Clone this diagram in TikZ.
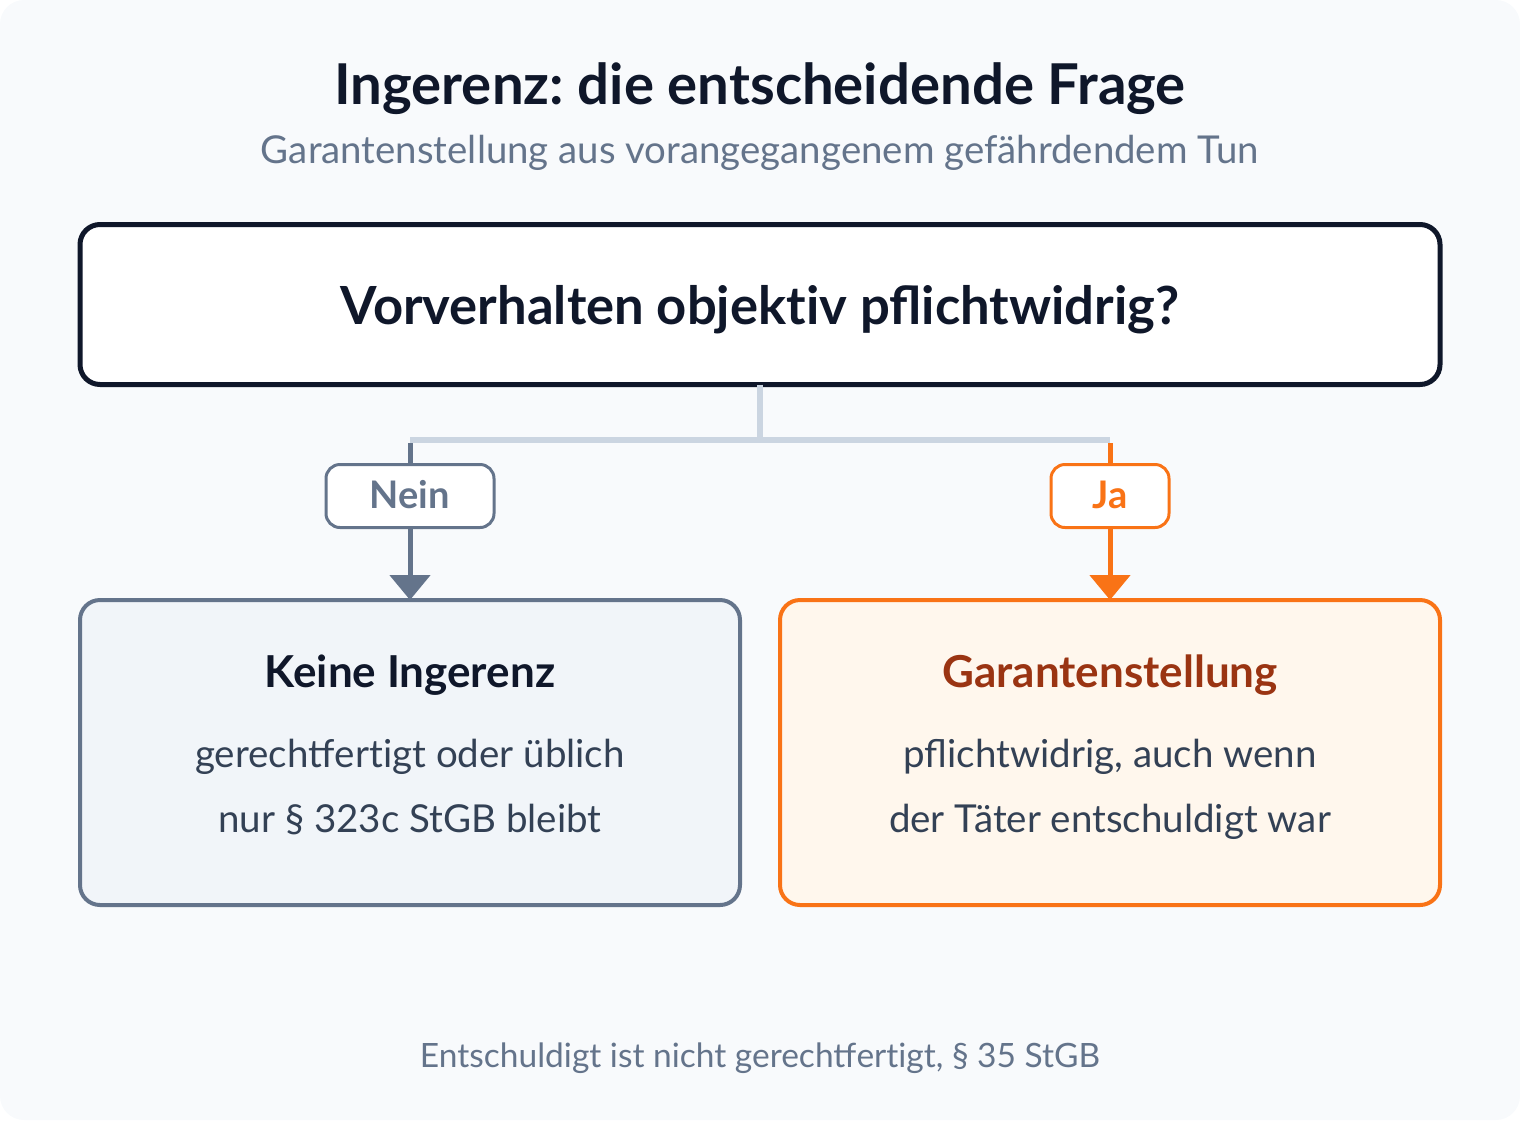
\documentclass[tikz,border=0pt]{standalone}
\usepackage{fontspec}
\setmainfont{Lato}
\usetikzlibrary{arrows.meta}
\frenchspacing
\newcommand\nolig{\kern0pt\relax}
\definecolor{bgc}{HTML}{F8FAFC}
\definecolor{ink}{HTML}{0F172A}
\definecolor{slatem}{HTML}{64748B}
\definecolor{slated}{HTML}{334155}
\definecolor{linec}{HTML}{CBD5E1}
\definecolor{orng}{HTML}{F97316}
\definecolor{orngd}{HTML}{9A3412}
\definecolor{lfill}{HTML}{F1F5F9}
\definecolor{rfill}{HTML}{FFF7ED}
\tikzset{
  txt/.style={anchor=base, inner sep=0pt, outer sep=0pt},
  boxbase/.style={rectangle, anchor=north west, inner sep=0pt, outer sep=0pt},
  qbox/.style={boxbase, draw=ink, fill=white, line width=5pt, rounded corners=20pt, minimum width=1360pt, minimum height=160pt},
  lbox/.style={boxbase, draw=slatem, fill=lfill, line width=4pt, rounded corners=20pt, minimum width=660pt, minimum height=305pt},
  rbox/.style={boxbase, draw=orng, fill=rfill, line width=4pt, rounded corners=20pt, minimum width=660pt, minimum height=305pt},
  tag/.style={rectangle, fill=white, line width=3pt, rounded corners=14pt, inner sep=0pt, minimum height=63pt},
  graylink/.style={draw=linec, line width=6pt},
  nolink/.style={draw=slatem, line width=5pt},
  yeslink/.style={draw=orng, line width=5pt},
  tip/.style={-{Triangle[width=40pt,length=25pt]}}
}
\begin{document}
\begin{tikzpicture}[x=1pt,y=-1pt]
\useasboundingbox (0,0) rectangle (1520,1120);
\fill[bgc, rounded corners=24pt] (0,0) rectangle (1520,1120);

\node[txt, text=ink, font=\fontsize{56.3}{62}\selectfont\bfseries] (title) at (760,104) {Ingerenz: die entscheidende Frage};
\node[txt, text=slatem, font=\fontsize{38.4}{44}\selectfont] (subtitle) at (760,163) {Garantenstellung aus vorangegangenem gefährdendem Tun};

\node[qbox] (q) at (80,224.5) {};
\node[txt, text=ink, font=\fontsize{52.6}{58}\selectfont\bfseries] (qtext) at (760,324) {Vorverhalten objekt\nolig iv pflichtwidrig?};

\coordinate (junc) at (760,440);
\coordinate (jl) at (410,440);
\coordinate (jr) at (1110,440);

\node[lbox] (lb) at (80,600) {};
\node[rbox] (rb) at (780,600) {};

\node[tag, draw=slatem, minimum width=168pt] (nein) at (410,496) {};
\node[tag, draw=orng, minimum width=118pt] (ja) at (1110,496) {};

\draw[graylink] (q.south) -- (junc);
\draw[graylink] (jl) -- (jr);
\draw[nolink] ([yshift=-3pt]jl) -- (nein.north);
\draw[yeslink] ([yshift=-3pt]jr) -- (ja.north);
\draw[nolink, tip, fill=slatem] (nein.south) -- (lb.north -| nein.south);
\draw[yeslink, tip, fill=orng] (ja.south) -- (rb.north -| ja.south);

\node[txt, text=slatem, font=\fontsize{38}{42}\selectfont\bfseries] (neintext) at (410,508) {Nein};
\node[txt, text=orng, font=\fontsize{38}{42}\selectfont\bfseries] (jatext) at (1110,508) {Ja};

\node[txt, text=ink, font=\fontsize{44}{50}\selectfont\bfseries] (lbt) at (410,687) {Keine Ingerenz};
\node[txt, text=slated, font=\fontsize{38.5}{44}\selectfont] (lb1) at (410,767) {gerechtf\nolig ert\nolig igt oder üblich};
\node[txt, text=slated, font=\fontsize{38.5}{44}\selectfont] (lb2) at (410,832) {nur § 323c StGB bleibt};

\node[txt, text=orngd, font=\fontsize{44}{50}\selectfont\bfseries] (rbt) at (1110,687) {Garantenstellung};
\node[txt, text=slated, font=\fontsize{38.5}{44}\selectfont] (rb1) at (1110,767) {pflichtwidrig, auch wenn};
\node[txt, text=slated, font=\fontsize{38.5}{44}\selectfont] (rb2) at (1110,832) {der Täter entschuldigt war};

\node[txt, text=slatem, font=\fontsize{33.5}{40}\selectfont] (foot) at (760,1067) {Entschuldigt ist nicht gerechtf\nolig ert\nolig igt, § 35 StGB};
\end{tikzpicture}
\end{document}
